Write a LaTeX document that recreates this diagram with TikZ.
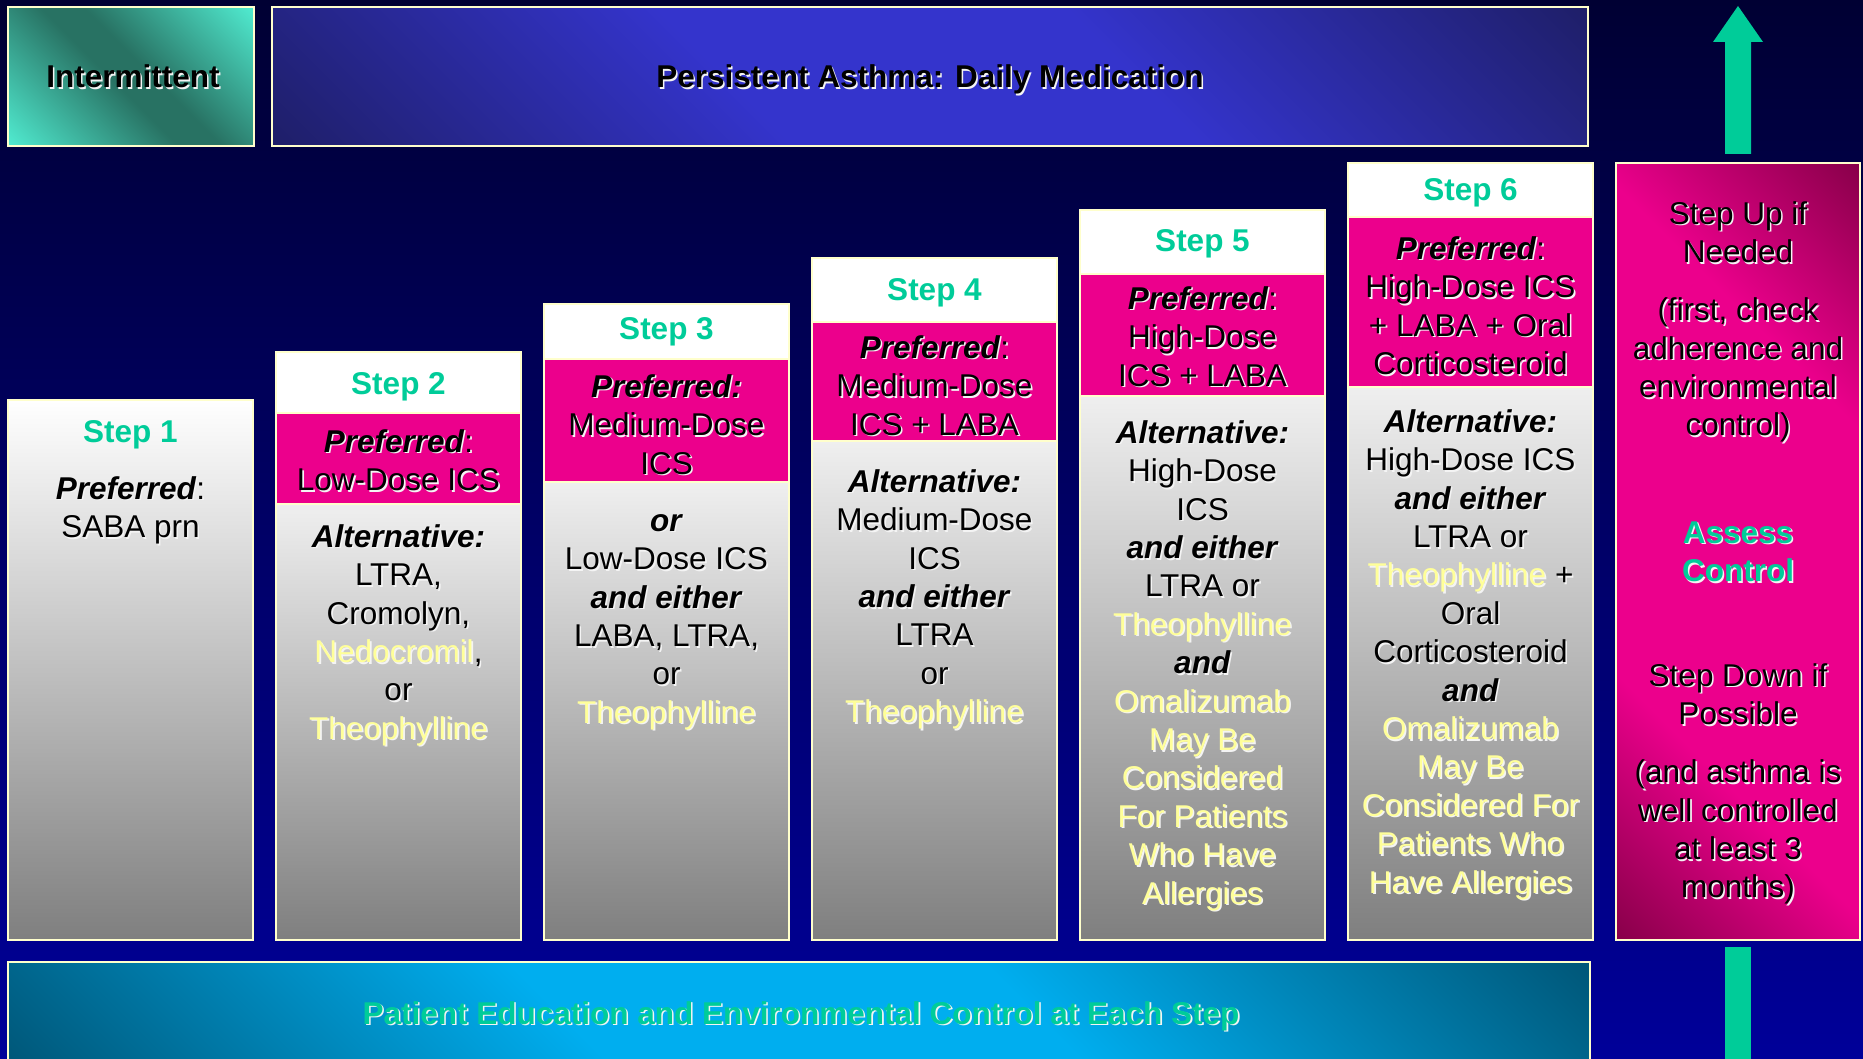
\documentclass[tikz,border=0pt]{standalone}
\usepackage{fontspec}
\setmainfont{Liberation Sans}
\definecolor{bgtop}{HTML}{000033}
\definecolor{bgbot}{HTML}{000099}
\definecolor{cream}{HTML}{FFFFCC}
\definecolor{stepgreen}{HTML}{00CC99}
\definecolor{hotpink}{HTML}{EC008C}
\definecolor{darkpink}{HTML}{7A0040}
\definecolor{hl}{HTML}{FFFF99}
\definecolor{shadowc}{HTML}{F4F4F4}
\definecolor{tealB}{HTML}{50EACF}
\definecolor{tealD}{HTML}{287263}
\definecolor{blueB}{HTML}{3434CC}
\definecolor{blueD}{HTML}{1E1E66}
\definecolor{cyanB}{HTML}{00AEEF}
\definecolor{cyanD}{HTML}{00587A}
\definecolor{graytop}{HTML}{EFEFEF}
\definecolor{colgray}{HTML}{7F7F7F}
\pgfdeclareverticalshading{pinkdiag}{100bp}{color(0bp)=(darkpink); color(12bp)=(darkpink); color(33bp)=(hotpink); color(67bp)=(hotpink); color(88bp)=(darkpink); color(100bp)=(darkpink)}
\pgfdeclareverticalshading{bluediag}{100bp}{color(0bp)=(blueD); color(14bp)=(blueD); color(40bp)=(blueB); color(60bp)=(blueB); color(86bp)=(blueD); color(100bp)=(blueD)}
\pgfdeclareverticalshading{cyandiag}{100bp}{color(0bp)=(cyanD); color(15bp)=(cyanD); color(40bp)=(cyanB); color(60bp)=(cyanB); color(85bp)=(cyanD); color(100bp)=(cyanD)}
\pgfdeclareverticalshading{tealdiag}{100bp}{color(0bp)=(tealB); color(15bp)=(tealB); color(46bp)=(tealD); color(54bp)=(tealD); color(85bp)=(tealB); color(100bp)=(tealB)}
\newcommand\bi[1]{\textbf{\textit{#1}}}
\newcommand\yl[1]{\textcolor{hl}{#1}}
\newcommand\fl{\rule{0pt}{25.2pt}}
\newcommand\shnode[4]{%
  \node[#3,text=shadowc,execute at begin node={\colorlet{hl}{shadowc}}] (#1s) at ([shift={(1.6,1.6)}]#2) {#4};
  \node[#3] (#1) at (#2) {#4};}
\newcommand\stepcol[4]{%
  \pgfmathsetmacro\colR{#1+245}
  \fill[white] (#1,#2) rectangle (\colR,#3);
  \fill[top color=graytop,bottom color=colgray] (#1,#4) rectangle (\colR,940);
  \fill[hotpink] (#1,#3) rectangle (\colR,#4);
  \draw[cream,line width=2] (#1,#3) -- (\colR,#3) (#1,#4) -- (\colR,#4);
  \draw[colbox] (#1,#2) rectangle (\colR,940);}
\begin{document}
\begin{tikzpicture}[x=1pt,y=-1pt,
  txt/.style={font=\fontsize{31.5}{38.4}\selectfont, inner sep=0pt, align=center, text=black},
  blk/.style={txt, anchor=north},
  ttl/.style={font=\fontsize{31.5}{38.4}\selectfont\bfseries, inner sep=0pt, anchor=base, text=black},
  hdr/.style={font=\fontsize{31.5}{38.4}\selectfont\bfseries, text=stepgreen, inner sep=0pt, anchor=base},
  colbox/.style={draw=cream, line width=2.5},
  panel/.style={draw=cream, line width=2.5, shading angle=-45}]
\useasboundingbox (0,0) rectangle (1863,1059);
\fill[top color=bgtop,bottom color=bgbot] (0,0) rectangle (1863,1059);

% top boxes
\shadedraw[panel,shading=tealdiag] (8,7) rectangle (254,146);
\shadedraw[panel,shading=bluediag] (272,7) rectangle (1588,146);
\shnode{intm}{133,88}{ttl}{Intermittent}
\shnode{pers}{930,88}{ttl}{Persistent Asthma: Daily Medication}

% arrows
\fill[stepgreen] (1738,6) -- (1763,42) -- (1751,42) -- (1751,154) -- (1725,154) -- (1725,42) -- (1713,42) -- cycle;
\fill[stepgreen] (1725,947) rectangle (1751,1059);

% right box
\shadedraw[panel,shading=pinkdiag] (1616,163) rectangle (1860,940);
\shnode{up}{1738,198.8}{blk}{\fl Step Up if\\Needed\\[19.6pt](first, check\\adherence and\\environmental\\control)}
\shnode{assess}{1738,517.8}{blk,font=\fontsize{31.5}{38.4}\selectfont\bfseries,text=stepgreen}{\fl Assess\\Control}
\shnode{down}{1738,660.8}{blk}{\fl Step Down if\\Possible\\[19.6pt](and asthma is\\well controlled\\at least 3\\months)}

% bottom box
\shadedraw[panel,shading=cyandiag] (8,962) rectangle (1590,1068);
\shnode{edu}{801,1024}{ttl,text=stepgreen}{Patient Education and Environmental Control at Each Step}

% step 1
\fill[top color=white,bottom color=colgray] (8,400) rectangle (253,940);
\draw[colbox] (8,400) rectangle (253,940);
\node[hdr] (h1) at (130.5,442) {Step 1};
\shnode{g1}{130.5,473.8}{blk}{\fl\bi{Preferred}:\\SABA prn}

% step 2
\stepcol{276}{352}{413}{504}
\node[hdr] (h2) at (398.5,394) {Step 2};
\shnode{p2}{398.5,426.8}{blk}{\fl\bi{Preferred}:\\Low-Dose ICS}
\shnode{g2}{398.5,521.8}{blk}{\fl\bi{Alternative:}\\LTRA,\\Cromolyn,\\\yl{Nedocromil},\\or\\\yl{Theophylline}}

% step 3
\stepcol{544}{304}{359}{482}
\node[hdr] (h3) at (666.5,339) {Step 3};
\shnode{p3}{666.5,371.8}{blk}{\fl\bi{Preferred:}\\Medium-Dose\\ICS}
\shnode{g3}{666.5,505.8}{blk}{\fl\bi{or}\\Low-Dose ICS\\\bi{and either}\\LABA, LTRA,\\or\\\yl{Theophylline}}

% step 4
\stepcol{812}{258}{322}{441}
\node[hdr] (h4) at (934.5,301) {Step 4};
\shnode{p4}{934.5,332.8}{blk}{\fl\bi{Preferred}:\\Medium-Dose\\ICS + LABA}
\shnode{g4}{934.5,466.8}{blk}{\fl\bi{Alternative:}\\Medium-Dose\\ICS\\\bi{and either}\\LTRA\\or\\\yl{Theophylline}}

% step 5
\stepcol{1080}{210}{274}{396}
\node[hdr] (h5) at (1202.5,252) {Step 5};
\shnode{p5}{1202.5,283.8}{blk}{\fl\bi{Preferred}:\\High-Dose\\ICS + LABA}
\shnode{g5}{1202.5,417.8}{blk}{\fl\bi{Alternative:}\\High-Dose\\ICS\\\bi{and either}\\LTRA or\\\yl{Theophylline}\\\bi{and}\\\yl{Omalizumab}\\\yl{May Be}\\\yl{Considered}\\\yl{For Patients}\\\yl{Who Have}\\\yl{Allergies}}

% step 6
\stepcol{1348}{163}{217}{387}
\node[hdr] (h6) at (1470.5,201) {Step 6};
\shnode{p6}{1470.5,233.8}{blk}{\fl\bi{Preferred}:\\High-Dose ICS\\+ LABA + Oral\\Corticosteroid}
\shnode{g6}{1470.5,406.8}{blk}{\fl\bi{Alternative:}\\High-Dose ICS\\\bi{and either}\\LTRA or\\\yl{Theophylline} +\\Oral\\Corticosteroid\\\bi{and}\\\yl{Omalizumab}\\\yl{May Be}\\\yl{Considered For}\\\yl{Patients Who}\\\yl{Have Allergies}}
\end{tikzpicture}
\end{document}
